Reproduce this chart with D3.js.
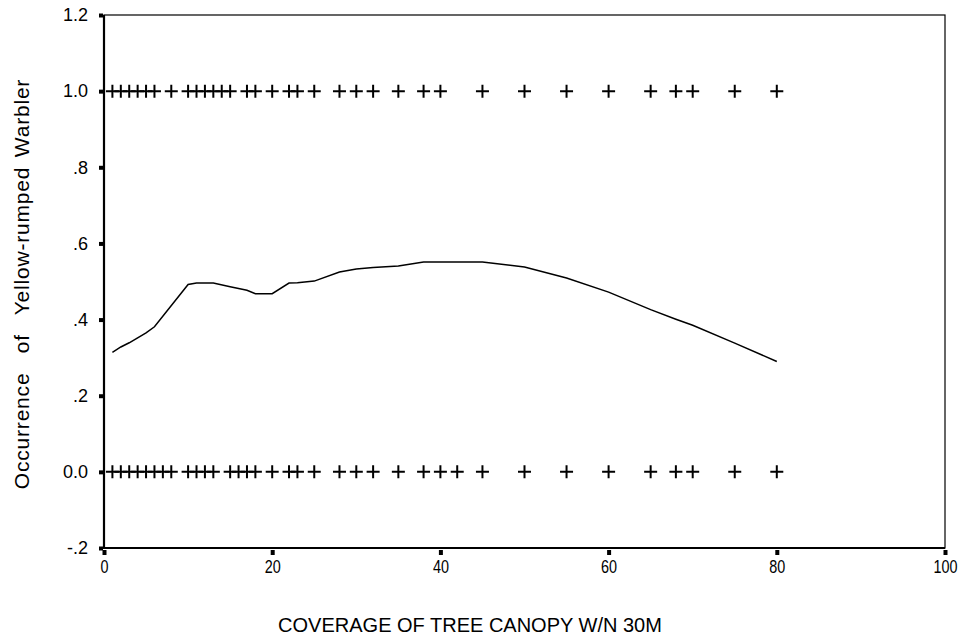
<!DOCTYPE html>
<html>
<head>
<meta charset="utf-8">
<script src="https://cdn.jsdelivr.net/npm/d3@7"></script>
<style>
  body { margin: 0; background: #fff; }
  svg { display: block; font-family: "Liberation Sans", Arial, sans-serif; }
</style>
</head>
<body>
<div id="viz"></div>
<script>
'use strict';

// cases where the warbler was found (1) and not found (0), by canopy cover
var presentX = [1, 2, 3, 4, 5, 6, 8, 10, 11, 12, 13, 14, 15, 17, 18, 20, 22, 23, 25,
                28, 30, 32, 35, 38, 40, 45, 50, 55, 60, 65, 68, 70, 75, 80];
var absentX = [1, 2, 3, 4, 5, 6, 7, 8, 10, 11, 12, 13, 15, 16, 17, 18, 20, 22, 23, 25,
               28, 30, 32, 35, 38, 40, 42, 45, 50, 55, 60, 65, 68, 70, 75, 80];

// smoothed fit line
var fitX = [1, 2, 3, 4, 5, 6, 10, 11, 13, 15, 17, 18, 20, 22, 23, 25, 28, 30, 32, 35,
            38, 40, 45, 50, 55, 60, 65, 68, 70, 75, 80];
var fitY = [0.314, 0.328, 0.339, 0.352, 0.365, 0.381, 0.492, 0.496, 0.496, 0.486, 0.477,
            0.468, 0.468, 0.496, 0.497, 0.501, 0.525, 0.533, 0.537, 0.541, 0.551, 0.551,
            0.551, 0.538, 0.509, 0.472, 0.426, 0.401, 0.385, 0.338, 0.290];

var xTicks = [0, 20, 40, 60, 80, 100];
var yTicks = [-0.2, 0, 0.2, 0.4, 0.6, 0.8, 1.0, 1.2];
var yTickLabels = ['-.2', '0.0', '.2', '.4', '.6', '.8', '1.0', '1.2'];

var width = 960,
    height = 644;

var svg = d3.select('#viz').append('svg')
    .attr('width', width)
    .attr('height', height);

svg.append('rect')
    .attr('width', width)
    .attr('height', height)
    .attr('fill', '#fff');

var x = d3.scaleLinear().domain([0, 100]).range([104, 945]);
var y = d3.scaleLinear().domain([-0.2, 1.2]).range([548, 15]);

// frame: thin top/right, heavier left/bottom
svg.append('rect')
    .attr('x', x(0))
    .attr('y', y(1.2))
    .attr('width', x(100) - x(0))
    .attr('height', y(-0.2) - y(1.2))
    .attr('fill', 'none')
    .attr('stroke', '#000')
    .attr('stroke-width', 1.2);
svg.append('path')
    .attr('d', 'M' + x(0) + ',' + y(1.2) + 'V' + y(-0.2) + 'H' + x(100))
    .attr('fill', 'none')
    .attr('stroke', '#000')
    .attr('stroke-width', 2.2);

var yAxis = svg.append('g')
    .attr('transform', 'translate(' + (x(0) - 1) + ',0)')
    .call(d3.axisLeft(y)
        .tickValues(yTicks)
        .tickFormat(function(d, i) { return yTickLabels[i]; })
        .tickSize(4)
        .tickPadding(11));

var xAxis = svg.append('g')
    .attr('transform', 'translate(0,' + (y(-0.2) + 2) + ')')
    .call(d3.axisBottom(x)
        .tickValues(xTicks)
        .tickSize(5)
        .tickPadding(5));

[yAxis, xAxis].forEach(function(ax) {
    ax.select('.domain').remove();
    ax.selectAll('.tick line')
        .attr('stroke', '#000')
        .attr('stroke-width', 4);
    ax.selectAll('.tick text')
        .attr('fill', '#000')
        .style('font-size', '18px');
});
// x tick labels are set in a condensed face in the original
xAxis.selectAll('.tick text')
    .attr('transform', 'scale(0.8,1)');

// fit line
var line = d3.line()
    .x(function(d) { return x(d[0]); })
    .y(function(d) { return y(d[1]); });

svg.append('path')
    .datum(d3.zip(fitX, fitY))
    .attr('d', line)
    .attr('fill', 'none')
    .attr('stroke', '#000')
    .attr('stroke-width', 1.5);

// plus markers
var plus = 'M-6.5,0H6.5M0,-6.5V6.5';
function drawRow(values, level) {
    svg.append('g')
        .selectAll('path')
        .data(values)
        .enter().append('path')
        .attr('d', plus)
        .attr('transform', function(d) { return 'translate(' + x(d) + ',' + y(level) + ')'; })
        .attr('fill', 'none')
        .attr('stroke', '#000')
        .attr('stroke-width', 2);
}
drawRow(presentX, 1);
drawRow(absentX, 0);

// axis titles
svg.append('text')
    .attr('x', 470)
    .attr('y', 632)
    .attr('text-anchor', 'middle')
    .style('font-size', '20px')
    .text('COVERAGE OF TREE CANOPY W/N 30M');

svg.append('text')
    .attr('transform', 'translate(29,284) rotate(-90)')
    .attr('text-anchor', 'middle')
    .style('font-size', '21px')
    .style('letter-spacing', '0.8px')
    .style('word-spacing', '3px')
    .style('white-space', 'pre')
    .text('Occurrence  of  Yellow-rumped Warbler');
</script>
</body>
</html>
